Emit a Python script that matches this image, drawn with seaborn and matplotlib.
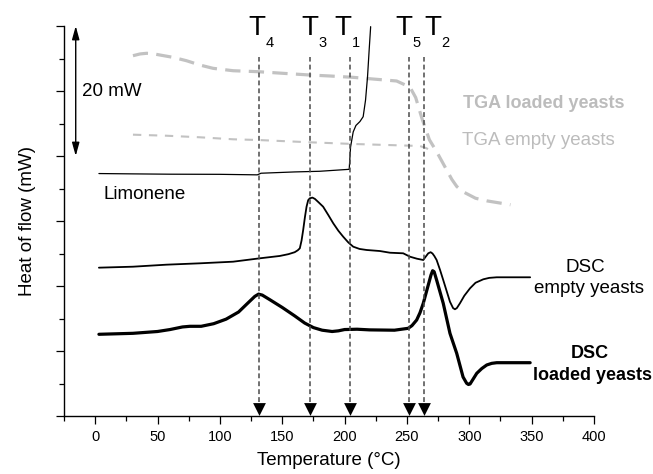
import matplotlib
matplotlib.use("Agg")
import matplotlib.pyplot as plt
import seaborn as sns
from matplotlib.ticker import MultipleLocator

# ---- thermal analysis traces (temperature in °C, signal in mW, offset per trace) ----
limonene_t = [3, 30, 60, 100, 130, 133, 160, 180, 203.7, 204.8, 206.9, 209.1,
              212.3, 214.9, 216.8, 218.4, 219.7, 220.9]
limonene_v = [37.3, 37.25, 37.2, 37.18, 37.1, 37.35, 37.55, 37.65, 37.95, 41.4,
              43.7, 44.7, 45.3, 46.05, 48.6, 52.2, 56.3, 59.9]

tga_loaded_t = [30.3, 36.0, 41.1, 46.0, 51.8, 62.4, 73.2, 83.9, 94.5, 110.6,
                130.7, 150.7, 172.1, 188.2, 206.9, 241.7, 252.4, 257.0, 262.0,
                268.0, 274.0, 282.0, 286.0, 290.0, 295.0, 300.0, 305.0, 314.0,
                333.0]
tga_loaded_v = [55.43, 55.7, 55.8, 55.75, 55.54, 55.18, 54.66, 54.0, 53.49,
                53.12, 52.97, 52.72, 52.46, 52.31, 52.1, 51.54, 50.6, 49.0,
                45.8, 42.5, 40.6, 37.8, 36.4, 35.3, 34.5, 34.0, 33.5, 33.1, 32.5]

tga_empty_t = [30.3, 57.1, 83.9, 110.6, 130.7, 172.1, 206.9, 241.7, 260.4,
               265.8, 270.0]
tga_empty_v = [43.28, 43.12, 42.88, 42.57, 42.46, 42.11, 41.85, 41.65, 41.54,
               41.18, 40.7]

dsc_empty_t = [3.0, 30.3, 57.1, 83.9, 110.6, 132.0, 148.0, 155.0, 160.0, 162.5,
               164.1, 165.5, 166.8, 168.2, 169.5, 170.8, 172.1, 174.2, 176.2,
               179.0, 182.8, 187.0, 190.9, 195.0, 198.9, 203.0, 206.9, 212.0,
               217.7, 228.3, 236.4, 247.0, 252.4, 258.0, 263.1, 265.0, 267.1,
               269.0, 270.5, 272.0, 273.8, 276.5, 279.1, 284.5, 287.0, 288.5,
               290.0, 292.5, 296.0, 300.6, 305.0, 311.2, 316.0, 322.0, 348.8]
dsc_empty_v = [22.82, 22.97, 23.28, 23.49, 23.74, 24.26, 24.62, 24.9, 25.2,
               25.5, 25.8, 27.0, 28.62, 30.6, 32.2, 33.2, 33.49, 33.6, 33.4,
               32.9, 32.2, 30.9, 29.65, 28.5, 27.58, 26.7, 26.05, 25.7, 25.54,
               25.38, 25.12, 25.03, 24.51, 24.2, 24.0, 24.5, 25.03, 25.2, 25.0,
               24.6, 24.0, 22.5, 20.92, 17.58, 16.6, 16.42, 16.6, 17.34, 18.5,
               19.65, 20.5, 21.03, 21.25, 21.34, 21.34]

dsc_loaded_t = [3.0, 30.3, 50.0, 60.0, 70.0, 76.0, 85.0, 95.0, 105.0, 115.0,
                122.0, 128.0, 131.0, 134.0, 140.0, 150.0, 160.0, 168.0, 175.0,
                182.0, 190.0, 195.0, 200.0, 210.0, 220.0, 240.0, 251.0, 254.0,
                257.8, 260.5, 263.1, 267.1, 269.3, 270.6, 271.8, 273.8, 279.1,
                284.5, 289.9, 295.0, 297.9, 299.3, 300.6, 302.5, 306.0, 310.0,
                314.0, 318.0, 322.0, 348.8]
dsc_loaded_v = [12.57, 12.72, 13.0, 13.3, 13.7, 13.8, 13.8, 14.2, 14.9, 16.0,
                17.3, 18.4, 18.75, 18.6, 17.9, 16.7, 15.4, 14.3, 13.6, 13.2,
                13.0, 13.1, 13.3, 13.35, 13.25, 13.2, 13.49, 13.9, 14.77, 15.9,
                17.34, 20.15, 21.7, 22.35, 22.2, 20.92, 17.34, 12.72, 9.65, 6.0,
                5.03, 4.85, 4.92, 5.5, 6.57, 7.3, 7.85, 8.1, 8.2, 8.2]

# characteristic temperatures
event_names = ["4", "3", "1", "5", "2"]
event_temps = [131, 172, 204, 252, 264]
event_label_x = [129.4, 172.1, 198.6, 247.6, 270.5]

x_ticks = [0, 50, 100, 150, 200, 250, 300, 350, 400]

sns.set_style("ticks", rc={"axes.edgecolor": "black", "text.color": "black",
                           "xtick.color": "black", "ytick.color": "black",
                           "axes.labelcolor": "black"})
plt.rcParams["font.family"] = ["Liberation Sans", "DejaVu Sans"]
plt.rcParams["lines.scale_dashes"] = False

fig = plt.figure(figsize=(6.53, 4.74), dpi=100)
ax = fig.add_axes([64 / 653, 58 / 474, 530 / 653, 390 / 474])

grey = "#c2c2c2"

sns.lineplot(x=tga_loaded_t, y=tga_loaded_v, ax=ax, color=grey, lw=2.3,
             linestyle=(0, (11, 6)), estimator=None, sort=False)
sns.lineplot(x=tga_empty_t, y=tga_empty_v, ax=ax, color=grey, lw=1.5,
             linestyle=(0, (6, 5.5)), estimator=None, sort=False)
sns.lineplot(x=limonene_t, y=limonene_v, ax=ax, color="black", lw=0.9,
             estimator=None, sort=False)
sns.lineplot(x=dsc_empty_t, y=dsc_empty_v, ax=ax, color="black", lw=1.3,
             estimator=None, sort=False, solid_joinstyle="round")
sns.lineplot(x=dsc_loaded_t, y=dsc_loaded_v, ax=ax, color="black", lw=2.3,
             estimator=None, sort=False, solid_joinstyle="round",
             solid_capstyle="round")

# dashed markers for the characteristic temperatures, ending in arrowheads
ax.vlines(event_temps, 2.2, 55.2, colors="#4a4a4a", lw=1.1,
          linestyles=[(0, (3.5, 2.2))])
sns.scatterplot(x=event_temps, y=[1.15] * len(event_temps), ax=ax,
                marker="v", s=85, color="black", linewidth=0, clip_on=False,
                zorder=5)
for name, lx in zip(event_names, event_label_x):
    ax.text(lx, 58.6, "T", fontsize=20, ha="center", va="baseline")
    ax.annotate(name, xy=(lx, 58.6), xytext=(6.2, -8.4),
                textcoords="offset points", fontsize=10.5, ha="left",
                va="baseline", annotation_clip=False)

# 20 mW scale bar
ax.annotate("", xy=(-15.6, 60), xytext=(-15.6, 40),
            arrowprops=dict(arrowstyle="<|-|>,head_length=0.8,head_width=0.22",
                            lw=1.0, color="black", shrinkA=0, shrinkB=0),
            annotation_clip=False)
ax.text(-10.8, 49.2, "20 mW", fontsize=13.5, ha="left", va="baseline")

# curve labels
ax.text(6.3, 33.4, "Limonene", fontsize=13.5, ha="left", va="baseline")
ax.text(295.2, 47.4, "TGA loaded yeasts", fontsize=13, fontweight="bold",
        color="#bcbcbc", ha="left", va="baseline", clip_on=False)
ax.text(294.1, 41.7, "TGA empty yeasts", fontsize=13.5, color="#bcbcbc",
        ha="left", va="baseline", clip_on=False)
ax.text(392.9, 22.2, "DSC", fontsize=13.5, ha="center", va="baseline",
        clip_on=False)
ax.text(396.1, 18.9, "empty yeasts", fontsize=13.5, ha="center",
        va="baseline", clip_on=False)
ax.text(396.9, 8.9, "DSC", fontsize=13, fontweight="bold", ha="center",
        va="baseline", clip_on=False)
ax.text(398.9, 5.5, "loaded yeasts", fontsize=13, fontweight="bold",
        ha="center", va="baseline", clip_on=False)

# axes styling
ax.set_xlim(-25, 400)
ax.set_ylim(0, 60)
ax.set_xticks(x_ticks)
ax.set_xticklabels([str(t) for t in x_ticks])
ax.xaxis.set_minor_locator(MultipleLocator(25))
ax.yaxis.set_major_locator(MultipleLocator(10))
ax.yaxis.set_minor_locator(MultipleLocator(5))
ax.set_yticklabels([])
ax.tick_params(which="major", direction="out", length=6, width=0.9,
               labelsize=10.5, pad=4)
ax.tick_params(which="minor", direction="out", length=3.5, width=0.9)
sns.despine(ax=ax)
for side in ("left", "bottom"):
    ax.spines[side].set_linewidth(1.0)

ax.set_xlabel("Temperature (°C)", fontsize=13.5)
ax.set_ylabel("Heat of flow (mW)", fontsize=13.5)
ax.xaxis.set_label_coords(0.5, -0.093)
ax.yaxis.set_label_coords(-0.052, 0.5)

fig.savefig("out.png", dpi=100)
